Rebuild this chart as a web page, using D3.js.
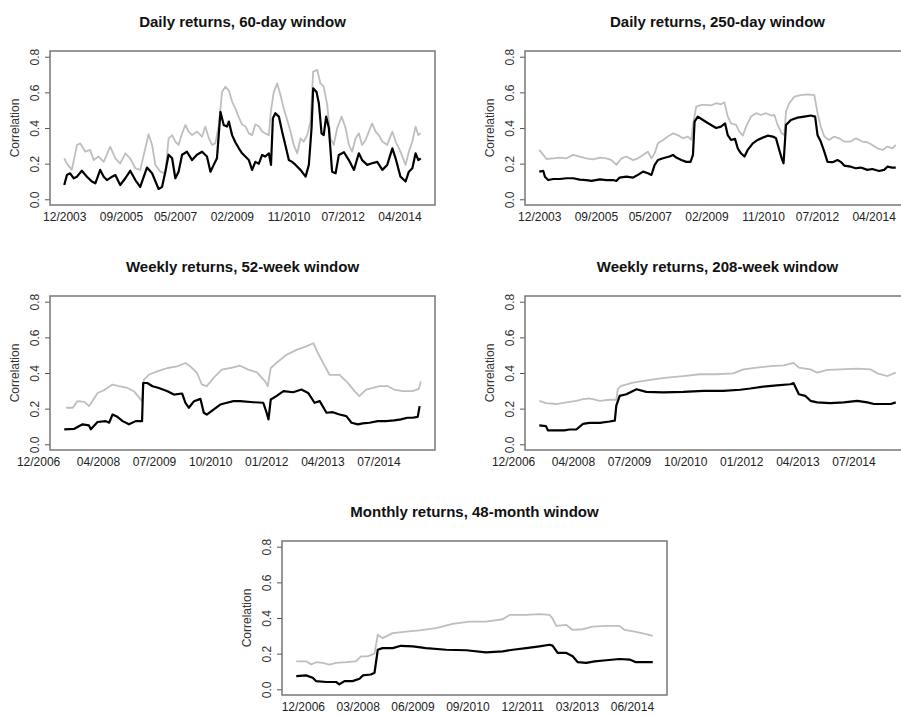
<!DOCTYPE html>
<html>
<head>
<meta charset="utf-8">
<script src="https://cdn.jsdelivr.net/npm/d3@7.9.0/dist/d3.min.js"></script>
<style>
  body { margin: 0; background: #fff; }
  svg { display: block; font-family: "Liberation Sans", Arial, sans-serif; }
</style>
</head>
<body>
<svg id="chart" width="901" height="715"></svg>
<script>
// x values are months after the panel's base date, y values are correlations
const dailyLabels = ["12/2003", "09/2005", "05/2007", "02/2009", "11/2010", "07/2012", "04/2014"];
const weeklyLabels = ["12/2006", "04/2008", "07/2009", "10/2010", "01/2012", "04/2013", "07/2014"];
const monthlyLabels = ["12/2006", "03/2008", "06/2009", "09/2010", "12/2011", "03/2013", "06/2014"];
const yTicks = [0, 0.2, 0.4, 0.6, 0.8];

const d60Black = [[0,.08],[1,.137],[2.2,.146],[3.5,.118],[4.7,.127],[6.5,.16],[8.4,.127],[10.2,.10],[11.5,.09],[13.3,.165],[14.6,.127],[15.8,.108],[17.7,.127],[18.9,.136],[20.7,.08],[22.6,.118],[24.4,.16],[26.3,.108],[28.1,.07],[30.6,.178],[32.5,.146],[34.9,.058],[36.2,.07],[37.4,.155],[38.6,.25],[39.9,.23],[41.1,.118],[42.3,.155],[43.6,.25],[45.4,.267],[47.3,.22],[49.1,.25],[51,.267],[52.8,.24],[54.1,.155],[55.3,.193],[56.5,.23],[57.8,.49],[59,.417],[60.2,.408],[60.9,.436],[62.1,.36],[63.3,.32],[64.6,.286],[65.8,.258],[67,.24],[68.3,.22],[69.5,.165],[70.7,.21],[72,.2],[73.2,.249],[74.4,.24],[75.7,.258],[76.5,.193],[77.2,.455],[78.1,.483],[79.4,.464],[80.6,.38],[81.8,.305],[83.1,.22],[84.3,.21],[85.6,.193],[87.4,.165],[89.3,.127],[90.5,.193],[91.5,.40],[92.1,.623],[93.3,.604],[94.2,.539],[95.2,.37],[96,.36],[96.9,.464],[97.9,.40],[99.1,.155],[100.4,.146],[101.6,.249],[103.5,.264],[105.3,.22],[107.2,.165],[109,.258],[110.2,.22],[112.1,.193],[113.9,.202],[115.8,.21],[117.7,.165],[119.5,.193],[121.4,.286],[122.6,.23],[124.4,.127],[126.3,.10],[127.5,.155],[128.8,.174],[130,.258],[131,.22],[131.9,.23]];
const d60Gray = [[0,.23],[1,.2],[2.8,.165],[4.7,.305],[5.9,.314],[7.8,.267],[9.6,.277],[10.9,.22],[12.7,.24],[14.6,.21],[17,.295],[18.9,.23],[20.7,.2],[22.6,.258],[24.4,.23],[26.3,.174],[28.1,.165],[30,.286],[31.2,.365],[32.5,.305],[33.7,.193],[35.6,.155],[37.4,.146],[38.6,.342],[39.9,.36],[41.1,.324],[42.3,.305],[43.6,.37],[44.8,.417],[46,.38],[47.3,.36],[49.1,.38],[51,.352],[52.2,.408],[53.5,.342],[54.7,.305],[55.9,.314],[57.2,.417],[58.4,.604],[59.6,.632],[60.9,.61],[62.1,.548],[63.3,.51],[64.6,.46],[65.8,.42],[67,.41],[68.3,.37],[69.5,.36],[70.7,.42],[72,.41],[73.2,.38],[74.4,.37],[75.7,.36],[76.5,.5],[77.5,.6],[78.8,.65],[80,.585],[81.2,.51],[82.5,.445],[83.7,.38],[84.9,.305],[86.2,.258],[87.4,.342],[88.6,.324],[89.9,.36],[91.1,.436],[92.1,.716],[93.6,.726],[94.8,.65],[96,.632],[97.3,.53],[98.5,.342],[99.7,.305],[101,.40],[102.6,.464],[104.1,.40],[105.3,.305],[106.5,.267],[107.8,.342],[109,.37],[110.2,.305],[111.5,.333],[112.7,.38],[113.9,.426],[115.2,.38],[116.4,.36],[117.7,.324],[119.5,.305],[121.4,.38],[122.6,.324],[124.4,.267],[126.3,.193],[127.5,.267],[128.8,.324],[130,.408],[131,.36],[131.9,.37]];

const d250Black = [[0,.155],[1.5,.159],[2.1,.127],[3.3,.108],[5.2,.114],[7.7,.114],[10.1,.118],[12.6,.118],[15,.11],[17.5,.108],[19.4,.103],[22.5,.112],[24.9,.108],[27.4,.108],[28.6,.103],[29.8,.122],[32.3,.127],[34.8,.122],[36.6,.137],[38.5,.155],[40.3,.146],[41.6,.137],[42.8,.193],[44,.22],[45.9,.23],[48.3,.24],[49.6,.249],[50.8,.234],[52.7,.22],[54.5,.21],[56.1,.21],[57,.249],[57.6,.436],[58.8,.464],[60.7,.445],[63.7,.417],[65.6,.40],[67.4,.408],[68.9,.426],[69.9,.36],[71.1,.333],[72.6,.339],[73.6,.286],[74.8,.258],[76.1,.24],[77.3,.277],[79.2,.314],[81,.333],[82.9,.346],[84.7,.357],[86.6,.352],[87.8,.342],[89,.277],[89.9,.23],[90.6,.202],[91.5,.417],[93.3,.445],[95.8,.458],[98.3,.464],[100.7,.47],[102.3,.464],[103.2,.36],[104.4,.324],[105.7,.267],[106.9,.21],[108.8,.208],[110.6,.22],[111.8,.21],[113.1,.189],[115.5,.183],[117.4,.174],[119.2,.178],[121.7,.165],[123.5,.17],[126,.159],[127.9,.165],[129.1,.183],[130.9,.178],[132.2,.178]];
const d250Gray = [[0,.277],[1.5,.249],[2.7,.226],[5.2,.23],[7.7,.234],[10.1,.23],[12.6,.249],[15,.24],[17.5,.23],[19.9,.224],[22.5,.234],[24.9,.23],[26.8,.22],[28.6,.193],[30.5,.23],[32.3,.24],[34.8,.22],[36.6,.23],[38.5,.249],[40.3,.267],[41.6,.23],[42.8,.258],[44,.314],[45.9,.333],[47.7,.352],[49.6,.37],[51.4,.36],[53.3,.342],[55.1,.352],[56.4,.333],[57,.417],[58.2,.52],[60.1,.53],[61.3,.53],[63.7,.527],[65.6,.539],[67.4,.533],[68.7,.544],[69.9,.464],[71.1,.426],[73,.417],[74.2,.38],[75.5,.357],[76.7,.408],[78.5,.464],[80.4,.483],[82.2,.473],[84.1,.483],[86,.47],[87.2,.473],[88.4,.417],[89.9,.37],[90.9,.36],[91.5,.492],[92.7,.539],[94.6,.576],[97,.585],[99.5,.589],[102,.585],[103.2,.483],[104.4,.408],[105.7,.352],[107.5,.333],[109.4,.352],[111.2,.342],[113.1,.324],[115.5,.324],[117.4,.342],[119.8,.324],[121.7,.32],[123.5,.305],[125.4,.286],[127.3,.277],[129.1,.296],[131,.286],[132.2,.305]];

const w52Black = [[7.0,.084],[9.7,.087],[11.9,.112],[13.6,.106],[14.1,.084],[15.9,.125],[18.1,.13],[19.0,.121],[19.9,.167],[21.2,.154],[22.6,.13],[24.3,.112],[26.1,.13],[27.8,.13],[28.1,.344],[29.2,.344],[30.6,.326],[32.3,.316],[34.6,.298],[36.3,.279],[38.5,.285],[39.4,.233],[40.3,.205],[41.7,.242],[43.4,.255],[44.3,.177],[45.1,.167],[46.9,.195],[48.7,.223],[50.5,.233],[52.2,.242],[54.0,.242],[57.6,.236],[60.2,.233],[61.1,.177],[61.6,.14],[62.2,.251],[63.7,.27],[65.6,.298],[68.2,.292],[70.4,.307],[72.2,.288],[73.9,.233],[75.3,.242],[77.1,.177],[78.8,.18],[80.6,.167],[82.4,.158],[83.8,.121],[85.5,.112],[86.8,.117],[88.6,.121],[90.8,.13],[93.0,.13],[95.2,.134],[97.0,.14],[98.7,.149],[100.1,.149],[101.5,.154],[102.0,.214]];
const w52Gray = [[7.5,.205],[9.3,.205],[10.5,.242],[12.4,.238],[13.6,.214],[14.5,.242],[15.9,.288],[17.6,.303],[19.9,.335],[21.6,.326],[23.9,.316],[25.6,.298],[27.8,.242],[28.3,.363],[29.6,.39],[31.8,.409],[34.6,.428],[37.2,.437],[39.4,.456],[40.7,.437],[42.5,.40],[43.8,.335],[45.1,.326],[46.9,.372],[49.1,.419],[51.4,.428],[54.0,.441],[56.2,.419],[58.5,.404],[60.7,.353],[61.4,.326],[62.2,.428],[63.7,.456],[66.4,.502],[69.1,.53],[71.7,.549],[73.6,.567],[74.8,.512],[76.7,.437],[77.9,.39],[80.6,.39],[82.8,.344],[84.6,.298],[85.9,.27],[87.7,.307],[89.5,.316],[91.3,.326],[93.5,.326],[95.2,.307],[97.5,.298],[100.1,.298],[101.8,.311],[102.3,.353]];

const w208Black = [[7.0,.106],[8.8,.102],[9.3,.078],[11.5,.078],[13.7,.078],[15.1,.083],[16.9,.083],[18.7,.115],[20.4,.12],[23.2,.12],[25.8,.128],[27.2,.133],[27.6,.217],[28.5,.272],[30.3,.281],[33.0,.309],[35.6,.294],[40.1,.291],[45.5,.294],[50.9,.30],[56.2,.30],[60.7,.306],[63.4,.313],[66.9,.324],[70.5,.331],[74.1,.337],[75.0,.343],[76.4,.281],[78.1,.272],[79.5,.244],[81.3,.235],[84.8,.231],[88.4,.235],[92.0,.244],[94.7,.235],[96.5,.226],[99.2,.226],[101.0,.226],[102.3,.235]];
const w208Gray = [[7.0,.244],[8.8,.231],[11.5,.226],[14.2,.235],[16.9,.244],[18.7,.254],[20.4,.257],[23.2,.244],[25.8,.25],[27.6,.25],[28.0,.309],[28.9,.328],[32.1,.346],[36.6,.361],[41.1,.374],[45.5,.383],[50.0,.393],[54.5,.393],[58.9,.398],[61.6,.42],[65.2,.43],[68.8,.439],[72.4,.443],[75.0,.457],[76.4,.43],[79.5,.42],[81.3,.402],[84.0,.417],[87.6,.42],[92.0,.424],[95.6,.42],[97.4,.398],[100.1,.383],[102.3,.402]];

const m48Black = [[-1.8,.074],[0.9,.078],[2.7,.065],[3.6,.046],[6.4,.041],[9.1,.041],[10.0,.028],[11.4,.046],[13.6,.046],[15.5,.059],[16.4,.078],[18.6,.083],[19.6,.093],[20.5,.222],[21.8,.231],[24.6,.231],[26.8,.244],[30.1,.241],[33.7,.231],[39.2,.222],[44.7,.219],[50.1,.207],[54.7,.213],[57.4,.222],[61.1,.231],[64.7,.241],[67.5,.25],[68.3,.245],[69.7,.204],[72.1,.204],[73.8,.185],[75.2,.152],[77.5,.148],[79.8,.157],[83.0,.163],[86.6,.17],[89.4,.167],[91.1,.152],[95.7,.152]];
const m48Gray = [[-1.8,.157],[0.9,.157],[2.3,.139],[3.6,.152],[5.4,.148],[7.3,.139],[9.1,.148],[11.9,.152],[14.5,.157],[15.9,.185],[17.7,.185],[19.6,.2],[20.5,.306],[21.8,.287],[24.6,.315],[28.2,.324],[31.9,.33],[36.4,.343],[41.0,.367],[45.5,.38],[50.1,.38],[54.7,.393],[56.5,.417],[61.1,.417],[64.7,.422],[67.5,.417],[68.3,.398],[69.3,.356],[72.1,.361],[73.8,.333],[76.6,.337],[79.3,.352],[83.0,.356],[86.6,.356],[88.0,.333],[90.8,.324],[93.6,.311],[95.7,.30]];

const panels = [
  { title: "Daily returns, 60-day window", base: "12/2003", labels: dailyLabels, black: d60Black, gray: d60Gray, left: 50, top: 51 },
  { title: "Daily returns, 250-day window", base: "12/2003", labels: dailyLabels, black: d250Black, gray: d250Gray, left: 525, top: 51 },
  { title: "Weekly returns, 52-week window", base: "12/2006", labels: weeklyLabels, black: w52Black, gray: w52Gray, left: 50, top: 296 },
  { title: "Weekly returns, 208-week window", base: "12/2006", labels: weeklyLabels, black: w208Black, gray: w208Gray, left: 525, top: 296 },
  { title: "Monthly returns, 48-month window", base: "12/2006", labels: monthlyLabels, black: m48Black, gray: m48Gray, left: 282, top: 541 }
];

const W = 385, H = 154;
const svg = d3.select("#chart");

panels.forEach(p => {
  const [bm, by] = p.base.split("/").map(Number);
  const monthsOf = lab => {
    const [mm, yy] = lab.split("/").map(Number);
    return (yy - by) * 12 + (mm - bm);
  };

  // R style: 4% padding on both axes
  const [x0, x1] = d3.extent(p.black.concat(p.gray), d => d[0]);
  const pad = (x1 - x0) * 0.04;
  const x = d3.scaleLinear().domain([x0 - pad, x1 + pad]).range([0, W]);
  const y = d3.scaleLinear().domain([-0.032, 0.832]).range([H, 0]);

  const g = svg.append("g").attr("transform", `translate(${p.left},${p.top})`);

  g.append("text")
    .attr("x", W / 2).attr("y", -24)
    .attr("text-anchor", "middle")
    .attr("font-size", 15).attr("font-weight", "bold")
    .attr("fill", "#111")
    .text(p.title);

  const line = d3.line().x(d => x(d[0])).y(d => y(d[1]));

  g.append("path").datum(p.gray)
    .attr("d", line).attr("fill", "none")
    .attr("stroke", "#bebebe").attr("stroke-width", 1.8)
    .attr("stroke-linejoin", "round");
  g.append("path").datum(p.black)
    .attr("d", line).attr("fill", "none")
    .attr("stroke", "#000").attr("stroke-width", 2.2)
    .attr("stroke-linejoin", "round");

  // y axis with rotated labels
  const ya = g.append("g").call(
    d3.axisLeft(y).tickValues(yTicks).tickSize(5).tickFormat(d3.format(".1f"))
  );
  ya.select(".domain").remove();
  ya.selectAll("line").attr("stroke", "#555");
  ya.selectAll("text")
    .attr("transform", "rotate(-90)")
    .attr("x", 0).attr("y", -11).attr("dy", 0)
    .attr("text-anchor", "middle")
    .attr("font-size", 12).attr("fill", "#333")
    .attr("font-family", "Liberation Sans, Arial, sans-serif");

  // x axis: labels only
  const xa = g.append("g").attr("transform", `translate(0,${H})`).call(
    d3.axisBottom(x)
      .tickValues(p.labels.map(monthsOf))
      .tickFormat((d, i) => p.labels[i])
      .tickSize(0).tickPadding(7)
  );
  xa.select(".domain").remove();
  xa.selectAll("text")
    .attr("font-size", 12).attr("fill", "#222")
    .attr("font-family", "Liberation Sans, Arial, sans-serif");

  g.append("text")
    .attr("transform", `translate(-31,${H / 2}) rotate(-90)`)
    .attr("text-anchor", "middle")
    .attr("font-size", 12).attr("fill", "#333")
    .text("Correlation");

  g.append("rect")
    .attr("width", W).attr("height", H)
    .attr("fill", "none")
    .attr("stroke", "#777").attr("stroke-width", 1.5);
});
</script>
</body>
</html>
